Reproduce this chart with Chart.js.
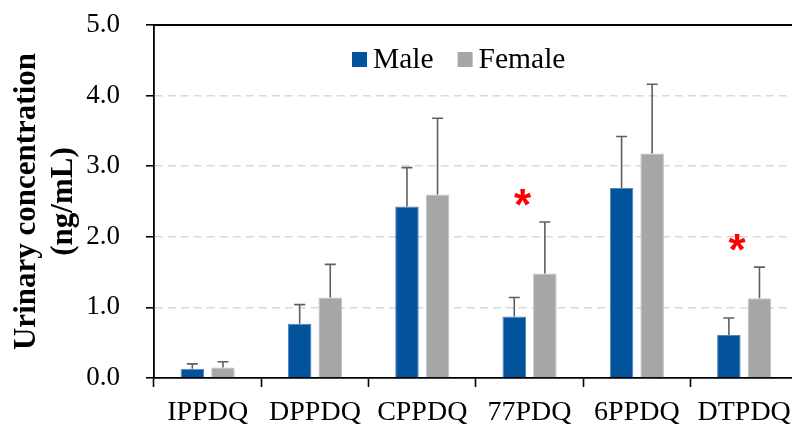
<!DOCTYPE html>
<html>
<head>
<meta charset="utf-8">
<script src="https://cdn.jsdelivr.net/npm/chart.js@4.4.1/dist/chart.umd.min.js"></script>
<style>
  html, body { margin: 0; padding: 0; background: #ffffff; overflow: hidden; }
  #wrap { width: 800px; height: 427px; }
</style>
</head>
<body>
<div id="wrap"><canvas id="c" width="800" height="427"></canvas></div>
<script>
// ---- data ----
const categories = ['IPPDQ', 'DPPDQ', 'CPPDQ', '77PDQ', '6PPDQ', 'DTPDQ'];
const seriesNames = ['Male', 'Female'];
const maleMean = [0.13, 0.77, 2.43, 0.87, 2.69, 0.61];
const maleSD   = [0.07, 0.27, 0.55, 0.27, 0.73, 0.24];
const femaleMean = [0.15, 1.14, 2.60, 1.48, 3.18, 1.13];
const femaleSD   = [0.08, 0.47, 1.08, 0.73, 0.98, 0.44];
const significance = [null, null, null, 2.55, null, 1.92]; // asterisk heights
const yTicks = [0, 1, 2, 3, 4, 5];

const SERIF = '"Liberation Serif", "Times New Roman", serif';

const errorBarPlugin = {
  id: 'errorBars',
  afterDatasetsDraw(chart) {
    const ctx = chart.ctx;
    const y = chart.scales.y;
    chart.data.datasets.forEach((ds, i) => {
      const meta = chart.getDatasetMeta(i);
      meta.data.forEach((bar, j) => {
        const top = y.getPixelForValue(ds.data[j] + ds.sd[j]);
        const base = y.getPixelForValue(ds.data[j]);
        ctx.save();
        ctx.strokeStyle = '#5f5f5f';
        ctx.lineWidth = 1.6;
        ctx.beginPath();
        ctx.moveTo(bar.x, base);
        ctx.lineTo(bar.x, top);
        ctx.moveTo(bar.x - 5.5, top);
        ctx.lineTo(bar.x + 5.5, top);
        ctx.stroke();
        ctx.restore();
      });
    });
  }
};

const asteriskPlugin = {
  id: 'asterisks',
  afterDatasetsDraw(chart) {
    const ctx = chart.ctx;
    const x = chart.scales.x, y = chart.scales.y;
    ctx.save();
    ctx.fillStyle = '#ff0000';
    ctx.font = 'bold 44px "Liberation Sans", Arial, sans-serif';
    ctx.textAlign = 'center';
    ctx.textBaseline = 'alphabetic';
    significance.forEach((v, i) => {
      if (v === null) return;
      const m = ctx.measureText('*');
      const asc = m.actualBoundingBoxAscent, desc = m.actualBoundingBoxDescent;
      const px = x.getPixelForValue(i) - 7;
      const py = y.getPixelForValue(v) + (asc - desc) / 2;
      ctx.fillText('*', px, py);
    });
    ctx.restore();
  }
};

const topLinePlugin = {
  id: 'topLine',
  afterDraw(chart) {
    const ctx = chart.ctx;
    const y = chart.scales.y;
    const py = y.getPixelForValue(y.max);
    ctx.save();
    ctx.strokeStyle = '#000000';
    ctx.lineWidth = 1.8;
    ctx.beginPath();
    ctx.moveTo(chart.chartArea.left, py);
    ctx.lineTo(chart.chartArea.right, py);
    ctx.stroke();
    ctx.restore();
  }
};

const legendPlugin = {
  id: 'innerLegend',
  afterDraw(chart) {
    const ctx = chart.ctx;
    ctx.save();
    ctx.font = '29.5px ' + SERIF;
    ctx.textBaseline = 'middle';
    ctx.textAlign = 'left';
    let xPos = 352;
    const yMid = 59;
    chart.data.datasets.forEach((ds) => {
      ctx.fillStyle = ds.backgroundColor;
      ctx.fillRect(xPos, yMid - 7, 15, 15);
      ctx.fillStyle = '#000000';
      ctx.fillText(ds.label, xPos + 21, yMid + 1);
      xPos += 21 + ctx.measureText(ds.label).width + 24;
    });
    ctx.restore();
  }
};

new Chart(document.getElementById('c'), {
  type: 'bar',
  data: {
    labels: categories,
    datasets: [
      { label: seriesNames[0], data: maleMean, sd: maleSD,
        backgroundColor: '#02539b', borderColor: '#4f86c2', borderWidth: 1,
        categoryPercentage: 0.57, barPercentage: 0.77 },
      { label: seriesNames[1], data: femaleMean, sd: femaleSD,
        backgroundColor: '#a6a6a6', borderColor: '#c4c4c4', borderWidth: 1,
        categoryPercentage: 0.57, barPercentage: 0.77 }
    ]
  },
  options: {
    responsive: false,
    animation: false,
    devicePixelRatio: 1,
    layout: { padding: { top: 25, right: 2, left: 0, bottom: 0 } },
    plugins: { legend: { display: false }, tooltip: { enabled: false } },
    scales: {
      x: {
        position: 'bottom',
        afterFit(s) { s.height = 49; },
        grid: { display: true, drawOnChartArea: false, offset: true,
                tickLength: 9, tickColor: '#000000', tickWidth: 1.6 },
        border: { display: true, color: '#000000', width: 1.8 },
        ticks: { color: '#000000', padding: 9, font: { family: SERIF, size: 28 } }
      },
      y: {
        min: 0, max: 5,
        afterFit(s) { s.width = 154; s.paddingTop = 0; s.paddingBottom = 0; },
        afterBuildTicks(s) { s.ticks = yTicks.map(v => ({ value: v })); },
        grid: {
          color: (c) => (c.tick && c.tick.value > 0 && c.tick.value < 5) ? '#d9d9d9' : 'rgba(0,0,0,0)',
          lineWidth: 1.6, tickLength: 8, tickColor: '#000000', tickWidth: 1.6
        },
        border: { display: true, color: '#000000', width: 1.8, dash: [8, 5] },
        ticks: { color: '#000000', padding: 26, font: { family: SERIF, size: 27 },
                 callback: (v) => Number(v).toFixed(1) },
        title: {
          display: true,
          text: ['Urinary concentration', '(ng/mL)'],
          color: '#000000',
          font: { family: SERIF, size: 31, weight: 'bold', lineHeight: 1.19 },
          padding: { top: 8.5, bottom: 0 }
        }
      }
    }
  },
  plugins: [errorBarPlugin, asteriskPlugin, topLinePlugin, legendPlugin]
});
</script>
</body>
</html>
